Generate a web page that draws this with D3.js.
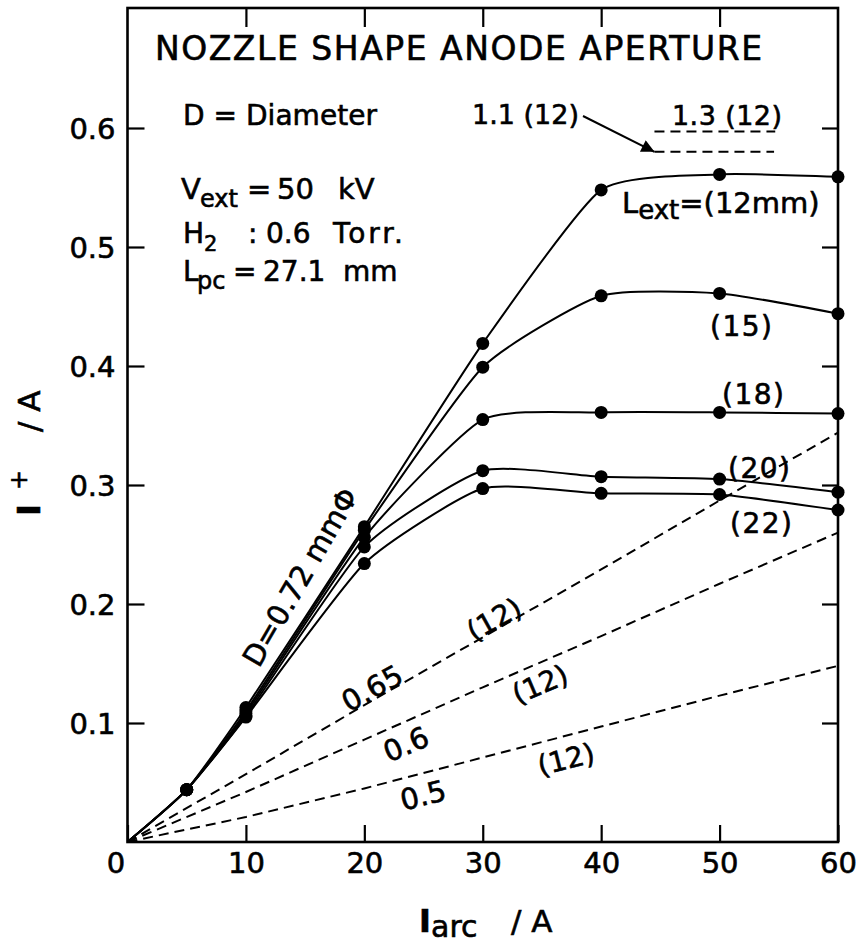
<!DOCTYPE html>
<html>
<head>
<meta charset="utf-8">
<script src="https://cdn.jsdelivr.net/npm/d3@7"></script>
<style>
  html, body { margin: 0; padding: 0; background: #fff; }
  svg { display: block; }
  text { font-family: "DejaVu Sans", sans-serif; fill: #000; stroke: #000; stroke-width: 0.6px; }
</style>
</head>
<body>
<svg id="chart" width="859" height="943"></svg>
<script>
// Arc current (A) at which the ion current was measured
const arcCurrent = [0, 5, 10, 20, 30, 40, 50, 60];

// Ion current I+ (A), D = 0.72 mm, for each extraction gap Lext (mm)
const ion12 = [0, 0.044, 0.113, 0.265, 0.419, 0.548, 0.561, 0.559];
const ion15 = [0, 0.044, 0.110, 0.262, 0.399, 0.459, 0.461, 0.444];
const ion18 = [0, 0.044, 0.108, 0.256, 0.355, 0.361, 0.361, 0.360];
const ion20 = [0, 0.044, 0.106, 0.248, 0.312, 0.307, 0.305, 0.294];
const ion22 = [0, 0.044, 0.105, 0.234, 0.297, 0.293, 0.292, 0.279];
const gapLabels = ["(15)", "(18)", "(20)", "(22)"];

// Smaller apertures at Lext = 12 mm (dashed)
const dashArc = [0, 10, 20, 30, 40, 50, 60];
const dia065 = [0, 0.057, 0.115, 0.172, 0.229, 0.287, 0.344];
const dia060 = [0, 0.042, 0.086, 0.130, 0.173, 0.217, 0.260];
const dia050 = [0, 0.021, 0.045, 0.071, 0.097, 0.123, 0.148];

// Larger apertures at Lext = 12 mm (short dashed segments)
const dia11Arc = [44.5, 54.6];
const dia11 = [0.580, 0.580];
const dia13Arc = [44.5, 54.7];
const dia13 = [0.597, 0.597];

// Axis ticks
const xTicks = [0, 10, 20, 30, 40, 50, 60];
const yTicks = [0.1, 0.2, 0.3, 0.4, 0.5, 0.6];

const svg = d3.select("#chart");
const x = d3.scaleLinear().domain([0, 60]).range([127.5, 838]);
const y = d3.scaleLinear().domain([0, 0.7]).range([842, 9]);

const zip = (xs, ys) => xs.map((v, i) => [v, ys[i]]);

const solidSeries = [ion12, ion15, ion18, ion20, ion22].map(v => zip(arcCurrent, v));
const dashSeries = [dia065, dia060, dia050].map(v => zip(dashArc, v));
const shortDash = [zip(dia11Arc, dia11), zip(dia13Arc, dia13)];

const curve = d3.line().x(d => x(d[0])).y(d => y(d[1])).curve(d3.curveCardinal.tension(0.45));
const straight = d3.line().x(d => x(d[0])).y(d => y(d[1]));

// dashed aperture lines
svg.append("g").selectAll("path").data(dashSeries.concat(shortDash)).join("path")
  .attr("d", straight).attr("fill", "none").attr("stroke", "#000")
  .attr("stroke-width", 2).attr("stroke-dasharray", "10,6");

// measured curves
svg.append("g").selectAll("path").data(solidSeries).join("path")
  .attr("d", curve).attr("fill", "none").attr("stroke", "#000").attr("stroke-width", 2);

// measured points
svg.append("g").selectAll("g").data(solidSeries).join("g")
  .selectAll("circle").data(d => d.filter(p => p[0] > 0)).join("circle")
  .attr("cx", d => x(d[0])).attr("cy", d => y(d[1])).attr("r", 6.5).attr("fill", "#000");

// axes with inward ticks
const axL = svg.append("g").attr("transform", `translate(${x(0)},0)`)
  .call(d3.axisLeft(y).tickValues(yTicks).tickSize(-17).tickPadding(12).tickFormat(d3.format(".1f")));
const axB = svg.append("g").attr("transform", `translate(0,${y(0)})`)
  .call(d3.axisBottom(x).tickValues(xTicks).tickSize(-17).tickPadding(10).tickFormat(d3.format("d")));
const axR = svg.append("g").attr("transform", `translate(${x(60)},0)`)
  .call(d3.axisRight(y).tickValues(yTicks).tickSize(-16).tickFormat(""));
const axT = svg.append("g").attr("transform", `translate(0,${y(0.7)})`)
  .call(d3.axisTop(x).tickValues(xTicks.slice(1, 6)).tickSize(-18).tickFormat(""));
[axL, axB, axR, axT].forEach(a => {
  a.select(".domain").remove();
  a.selectAll("line").attr("stroke", "#000").attr("stroke-width", 2.2);
  a.selectAll("text").attr("font-family", "DejaVu Sans, sans-serif").attr("font-size", 29)
    .attr("fill", "#000").attr("stroke", "#000").attr("stroke-width", 0.6);
});
axL.selectAll("text").attr("dy", "0.36em");
axB.selectAll(".tick").filter(d => d === 0).select("text").attr("x", -12);

// frame
svg.append("rect").attr("x", x(0)).attr("y", y(0.7) - 1).attr("width", x(60) - x(0)).attr("height", y(0) - y(0.7) + 1)
  .attr("fill", "none").attr("stroke", "#000").attr("stroke-width", 2.6);

// header text block
svg.append("text").attr("x", 155).attr("y", 60).attr("font-size", 33)
  .attr("textLength", 607).attr("lengthAdjust", "spacing").text("NOZZLE SHAPE ANODE APERTURE");
svg.append("text").attr("x", 183).attr("y", 125).attr("font-size", 28)
  .attr("textLength", 194).attr("lengthAdjust", "spacing").text("D = Diameter");

// a text line laid out word by word, with optional subscripts
function piecewise(yBase, size, parts) {
  const t = svg.append("text").attr("y", yBase).attr("font-size", size);
  parts.forEach(p => {
    const s = t.append("tspan").attr("x", p.x).attr("y", yBase + (p.sub || 0))
      .attr("font-size", p.size || size).text(p.t);
    if (p.len) s.attr("textLength", p.len).attr("lengthAdjust", "spacing");
  });
}
piecewise(199, 29, [
  { x: 181, t: "V" }, { x: 200, t: "ext", sub: 8, size: 24 }, { x: 247, t: "=" },
  { x: 277, t: "50" }, { x: 338, t: "kV" }
]);
piecewise(243, 28, [
  { x: 183, t: "H" }, { x: 204, t: "2", sub: 8, size: 21 }, { x: 248, t: ":" },
  { x: 266, t: "0.6" }, { x: 333, t: "Torr.", len: 70 }
]);
piecewise(281, 28, [
  { x: 183, t: "L" }, { x: 197, t: "pc", sub: 8, size: 24 }, { x: 233, t: "=" },
  { x: 263, t: "27.1" }, { x: 343, t: "mm" }
]);

// large aperture labels and arrow
svg.append("text").attr("x", 472).attr("y", 124).attr("font-size", 27).text("1.1 (12)");
svg.append("text").attr("x", 672).attr("y", 125).attr("font-size", 27)
  .attr("textLength", 110).attr("lengthAdjust", "spacing").text("1.3 (12)");
svg.append("defs").append("marker").attr("id", "head").attr("viewBox", "0 0 10 10")
  .attr("refX", 10).attr("refY", 5).attr("markerWidth", 27).attr("markerHeight", 13)
  .attr("markerUnits", "userSpaceOnUse").attr("orient", "auto")
  .append("path").attr("d", "M0,0L10,5L0,10z").attr("fill", "#000");
svg.append("line").attr("x1", 583).attr("y1", 116).attr("x2", x(dia11Arc[0])).attr("y2", y(dia11[0]))
  .attr("stroke", "#000").attr("stroke-width", 2).attr("marker-end", "url(#head)");

// extraction gap labels
const le = svg.append("text").attr("x", 622).attr("y", 213).attr("font-size", 29);
le.append("tspan").text("L");
le.append("tspan").attr("dy", 6).attr("font-size", 26).text("ext");
le.append("tspan").attr("dy", -6).text("=(12mm)");
const gapPos = [[710, 336], [722, 404], [728, 478], [730, 533]];
svg.append("g").selectAll("text").data(gapLabels).join("text")
  .attr("x", (d, i) => gapPos[i][0]).attr("y", (d, i) => gapPos[i][1])
  .attr("font-size", 28).attr("letter-spacing", 1.5).text(d => d);

// rotated labels along the lines
function rotLabel(txt, cx, cy, angle, size) {
  svg.append("text").attr("transform", `translate(${cx},${cy}) rotate(${angle})`)
    .attr("text-anchor", "middle").attr("dy", "0.36em").attr("font-size", size).text(txt);
}
rotLabel("D=0.72 mmΦ", 300, 577, -60, 29);
rotLabel("0.65", 372, 688, -29, 29);
rotLabel("(12)", 494, 619, -29, 28);
rotLabel("0.6", 406, 744, -23, 29);
rotLabel("(12)", 540, 684, -23, 28);
rotLabel("0.5", 423, 795, -14, 29);
rotLabel("(12)", 566, 759, -14, 28);

// axis titles
const xt = svg.append("g");
xt.append("text").attr("x", 419).attr("y", 932).attr("font-family", "DejaVu Serif, serif")
  .attr("font-weight", "bold").attr("font-size", 32).text("I");
xt.append("text").attr("x", 431).attr("y", 937).attr("font-size", 30).text("arc");
xt.append("text").attr("x", 511).attr("y", 932).attr("font-size", 31).text("/ A");

const yl = svg.append("g");
yl.append("text").attr("transform", "translate(40,516) rotate(-90)").attr("font-family", "DejaVu Serif, serif")
  .attr("font-weight", "bold").attr("font-size", 32).text("I");
yl.append("text").attr("transform", "translate(27,490) rotate(-90)").attr("font-size", 24).text("+");
yl.append("text").attr("transform", "translate(40,432) rotate(-90)").attr("font-size", 31).text("/ A");
</script>
</body>
</html>
